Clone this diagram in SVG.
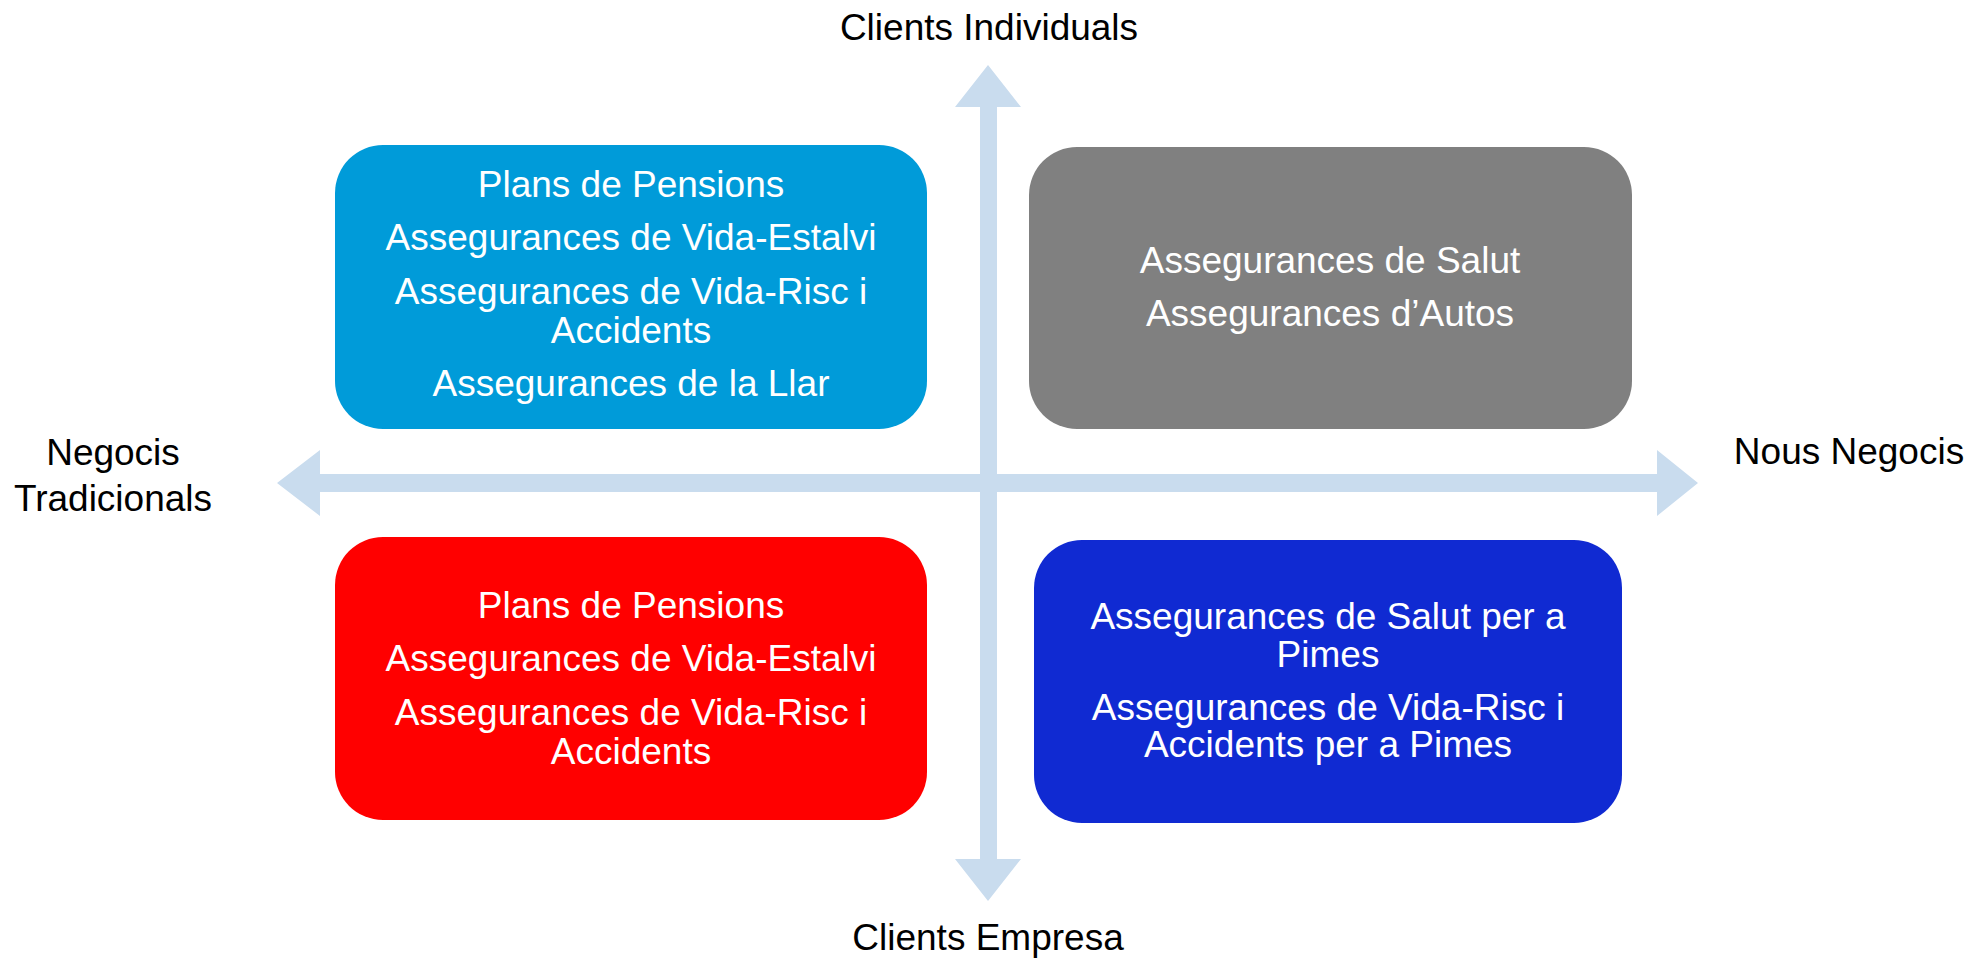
<svg xmlns="http://www.w3.org/2000/svg" width="1973" height="958" viewBox="0 0 1973 958">
<style>
text{font-family:"Liberation Sans",Arial,sans-serif;font-size:37px;text-anchor:middle}
.w{fill:#ffffff}
.k{fill:#000000}
.arrow{fill:#C9DCEE}
</style>
<rect width="1973" height="958" fill="#ffffff"/>
<g id="connectors">
<polygon class="arrow" points="988,65 1021,107 997,107 997,859 1021,859 988,901 955,859 980,859 980,107 955,107"/>
<polygon class="arrow" points="277,483 320,450 320,474 1657,474 1657,450 1698,483 1657,516 1657,492 320,492 320,516"/>
</g>
<g id="axis-top"><text class="k" x="989" y="40">Clients Individuals</text></g>
<g id="axis-bottom"><text class="k" x="988" y="950">Clients Empresa</text></g>
<g id="axis-left"><text class="k" x="113" y="465">Negocis</text><text class="k" x="113" y="511">Tradicionals</text></g>
<g id="axis-right"><text class="k" x="1849" y="464">Nous Negocis</text></g>
<g id="node-tl">
<rect x="335" y="145" width="592" height="284" rx="48" fill="#009BD9"/>
<text class="w" x="631" y="197">Plans de Pensions</text>
<text class="w" x="631" y="250">Assegurances de Vida-Estalvi</text>
<text class="w" x="631" y="304">Assegurances de Vida-Risc i</text>
<text class="w" x="631" y="343">Accidents</text>
<text class="w" x="631" y="396">Assegurances de la Llar</text>
</g>
<g id="node-tr">
<rect x="1029" y="147" width="603" height="282" rx="48" fill="#808080"/>
<text class="w" x="1330" y="273">Assegurances de Salut</text>
<text class="w" x="1330" y="326">Assegurances d’Autos</text>
</g>
<g id="node-bl">
<rect x="335" y="537" width="592" height="283" rx="48" fill="#FF0000"/>
<text class="w" x="631" y="618">Plans de Pensions</text>
<text class="w" x="631" y="671">Assegurances de Vida-Estalvi</text>
<text class="w" x="631" y="725">Assegurances de Vida-Risc i</text>
<text class="w" x="631" y="764">Accidents</text>
</g>
<g id="node-br">
<rect x="1034" y="540" width="588" height="283" rx="48" fill="#102AD2"/>
<text class="w" x="1328" y="629">Assegurances de Salut per a</text>
<text class="w" x="1328" y="667">Pimes</text>
<text class="w" x="1328" y="720">Assegurances de Vida-Risc i</text>
<text class="w" x="1328" y="757">Accidents per a Pimes</text>
</g>
</svg>
